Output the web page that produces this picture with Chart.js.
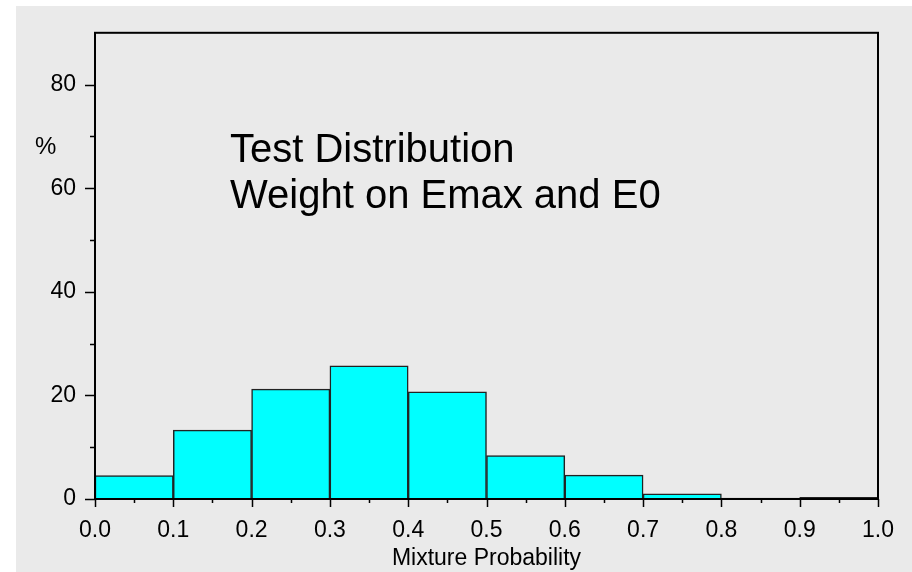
<!DOCTYPE html>
<html>
<head>
<meta charset="utf-8">
<script src="https://cdn.jsdelivr.net/npm/chart.js@4/dist/chart.umd.min.js"></script>
<style>
  body { margin: 0; background: #fff; }
  #container { width: 912px; height: 572px; }
</style>
</head>
<body>
<div id="container"><canvas id="chartcanvas" width="912" height="572"></canvas></div>
<script>
// bin centres of the histogram (width 0.1)
var binCenters = [0.05, 0.15, 0.25, 0.35, 0.45, 0.55, 0.65, 0.75, 0.85, 0.95];
var percents = [4.5, 13.3, 21.2, 25.7, 20.7, 8.4, 4.6, 1.0, 0.2, 0.3];

var xTicks = [0.0, 0.1, 0.2, 0.3, 0.4, 0.5, 0.6, 0.7, 0.8, 0.9, 1.0];
var xMinorTicks = [0.05, 0.15, 0.25, 0.35, 0.45, 0.55, 0.65, 0.75, 0.85, 0.95];
var yTicks = [0, 20, 40, 60, 80];
var yMinorTicks = [10, 30, 50, 70];

var notes = ['Test Distribution', 'Weight on Emax and E0'];
var yLabel = '%';
var xLabel = 'Mixture Probability';

var FONT = '"Liberation Sans", Arial, sans-serif';

// background + frame + tick marks + texts
var decor = {
    id: 'decor',
    beforeDraw: function (chart) {
        var c = chart.ctx;
        c.save();
        c.fillStyle = '#fff';
        c.fillRect(0, 0, chart.width, chart.height);
        c.fillStyle = '#eaeaea';
        c.fillRect(16, 6, chart.width - 16, chart.height - 6);
        c.restore();
    },
    afterDraw: function (chart) {
        var c = chart.ctx;
        var a = chart.chartArea;
        var xs = chart.scales.x, ys = chart.scales.y;
        c.save();
        c.strokeStyle = '#000';
        c.lineWidth = 1.5;
        c.beginPath();
        xTicks.forEach(function (v) {
            var px = Math.round(xs.getPixelForValue(v)) + 0.5;
            c.moveTo(px, a.bottom); c.lineTo(px, a.bottom + 8);
        });
        xMinorTicks.forEach(function (v) {
            var px = Math.round(xs.getPixelForValue(v)) + 0.5;
            c.moveTo(px, a.bottom); c.lineTo(px, a.bottom + 4);
        });
        yTicks.forEach(function (v) {
            var py = Math.round(ys.getPixelForValue(v)) + 0.5;
            c.moveTo(a.left, py); c.lineTo(a.left - 10, py);
        });
        yMinorTicks.forEach(function (v) {
            var py = Math.round(ys.getPixelForValue(v)) + 0.5;
            c.moveTo(a.left, py); c.lineTo(a.left - 5, py);
        });
        c.stroke();
        c.lineWidth = 2;
        c.strokeRect(a.left, a.top, a.right - a.left, a.bottom - a.top);

        c.fillStyle = '#000';
        c.textBaseline = 'alphabetic';
        c.textAlign = 'left';
        c.font = '40px ' + FONT;
        c.fillText(notes[0], 230, 162);
        c.fillText(notes[1], 230, 208);
        c.font = '24px ' + FONT;
        c.fillText(yLabel, 35, 154);
        c.restore();
    }
};

var ctx = document.querySelector('#chartcanvas');
var myChart = new Chart(ctx, {
    type: 'bar',
    data: {
        datasets: [{
            data: binCenters.map(function (x, i) { return { x: x, y: percents[i] }; }),
            backgroundColor: '#00ffff',
            borderColor: '#222',
            borderWidth: 1.5,
            borderSkipped: 'start',
            barPercentage: 1,
            categoryPercentage: 1,
        }],
    },
    options: {
        responsive: false,
        animation: false,
        layout: { padding: { top: 31, right: 34, left: 0, bottom: 0 } },
        plugins: {
            legend: { display: false },
            tooltip: { enabled: false },
        },
        scales: {
            x: {
                type: 'linear',
                min: 0,
                max: 1,
                offset: false,
                grid: { display: false, drawTicks: false },
                border: { display: false },
                afterBuildTicks: function (s) { s.ticks = xTicks.map(function (v) { return { value: v }; }); },
                afterFit: function (s) { s.height = 73; },
                ticks: {
                    autoSkip: false,
                    maxRotation: 0,
                    padding: 18,
                    color: '#000',
                    font: { family: FONT, size: 23 },
                    callback: function (v) { return v.toFixed(1); },
                },
                title: {
                    display: true,
                    text: xLabel,
                    color: '#000',
                    font: { family: FONT, size: 23, lineHeight: 1 },
                    padding: { top: 0, bottom: 2 },
                },
            },
            y: {
                min: 0,
                max: 90,
                grid: { display: false, drawTicks: false },
                border: { display: false },
                afterBuildTicks: function (s) { s.ticks = yTicks.map(function (v) { return { value: v }; }); },
                afterFit: function (s) { s.width = 95; },
                ticks: {
                    padding: 19,
                    color: '#000',
                    font: { family: FONT, size: 23 },
                },
            },
        },
    },
    plugins: [decor],
});
</script>
</body>
</html>
